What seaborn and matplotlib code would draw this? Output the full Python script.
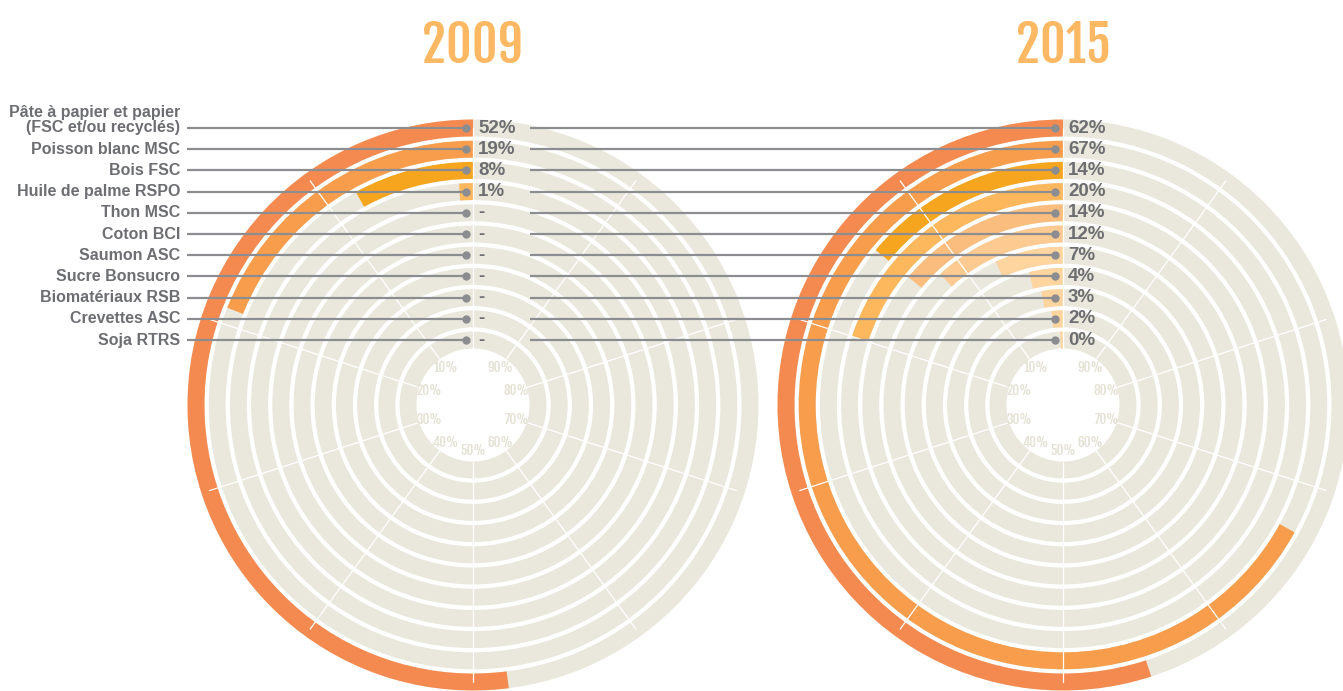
import numpy as np
import matplotlib
matplotlib.use("Agg")
import matplotlib.pyplot as plt
import seaborn as sns

# %% Data.
labels = ["Pâte à papier et papier\n(FSC et/ou recyclés)", "Poisson blanc MSC", "Bois FSC",
          "Huile de palme RSPO", "Thon MSC", "Coton BCI", "Saumon ASC", "Sucre Bonsucro",
          "Biomatériaux RSB", "Crevettes ASC", "Soja RTRS"]
years = ["2009", "2015"]
values_2009 = [52, 19, 8, 1, 0, 0, 0, 0, 0, 0, 0]
text_2009 = ["52%", "19%", "8%", "1%", "-", "-", "-", "-", "-", "-", "-"]
values_2015 = [55, 67, 14, 20, 14, 12, 7, 4, 3, 2, 0.6]   # arc lengths as drawn
text_2015 = ["62%", "67%", "14%", "20%", "14%", "12%", "7%", "4%", "3%", "2%", "0%"]
ticks = [10, 20, 30, 40, 50, 60, 70, 80, 90]

ring_colors = ["#F58A50", "#F79D4B", "#F6A51F", "#FDB85E", "#FBBD7E", "#FDCB92",
               "#FED49F", "#FED49F", "#FED49F", "#FED49F", "#FED49F"]
BEIGE = "#EAE8DD"
GREY = "#6D6E71"
LINE = "#8C8D90"
TITLE = "#FDB863"
NARROW = ["Fjalla One", "Oswald", "Roboto Condensed", "DejaVu Sans"]

# %% Layout (pixels).
W, H = 1343, 691
UNIT = 21.2          # px between rings
R0 = 65 / UNIT       # radius of the innermost ring, ring units
BAND = 0.8
AX_R = 300
CY = 405
CENTERS = [473, 1063]

sns.set_theme(style="white")
plt.rcParams["font.family"] = ["Liberation Sans", "DejaVu Sans"]

fig = plt.figure(figsize=(W / 100, H / 100), dpi=100)
fig.patch.set_facecolor("white")

n = len(labels)
r = np.arange(n)[::-1]  # outermost ring first

for cx, year, vals in zip(CENTERS, years, [values_2009, values_2015]):
    ax = fig.add_axes([(cx - AX_R) / W, (H - CY - AX_R) / H, 2 * AX_R / W, 2 * AX_R / H],
                      projection="polar")
    ax.set_theta_zero_location("N")
    ax.set_theta_direction(1)
    ax.set_ylim(-R0, AX_R / UNIT - R0)
    ax.bar(np.zeros(n), BAND, width=2 * np.pi, bottom=r - BAND / 2, align="edge",
           color=BEIGE, linewidth=0, zorder=1)
    ax.bar(np.zeros(n), BAND, width=np.array(vals) / 100 * 2 * np.pi, bottom=r - BAND / 2,
           align="edge", color=ring_colors, linewidth=0, zorder=2)
    for t in [0] + ticks:
        th = t / 100 * 2 * np.pi
        ax.plot([th, th], [-BAND / 2, r.max()], color="white", lw=0.9, zorder=3)
    for t in ticks:
        ax.text(t / 100 * 2 * np.pi, -0.9, f"{t}%", ha="center", va="center",
                family=NARROW, fontsize=9.5, color="#E4E2D4", zorder=4)
    ax.set_axis_off()

# %% Overlay for labels and leader lines.
ov = fig.add_axes([0, 0, 1, 1], zorder=10)
ov.set_xlim(0, W)
ov.set_ylim(H, 0)
ov.set_axis_off()
ov.patch.set_alpha(0)

ys = CY - (r + R0) * UNIT
for k in range(n):
    y = ys[k]
    ov.plot([187, 466], [y, y], color=LINE, lw=1.6, solid_capstyle="butt")
    ov.plot([530, 1055], [y, y], color=LINE, lw=1.6, solid_capstyle="butt")
    ov.plot([466, 1055], [y, y], ls="none", marker="o", ms=5, color=LINE)
    extra = labels[k].count("\n")
    ov.text(180, y - extra * 8.5, labels[k], ha="right", va="center", fontsize=11.5,
            fontweight="bold", color=GREY, linespacing=1.0)
    ov.text(478, y, text_2009[k], ha="left", va="center", fontsize=13.5,
            fontweight="bold", color=GREY)
    ov.text(1068, y, text_2015[k], ha="left", va="center", fontsize=13.5,
            fontweight="bold", color=GREY)

for cx, year in zip(CENTERS, years):
    ov.text(cx, 46, year, ha="center", va="center", family=NARROW, fontsize=36,
            color=TITLE)

fig.savefig("out.png", dpi=100, facecolor="white")
